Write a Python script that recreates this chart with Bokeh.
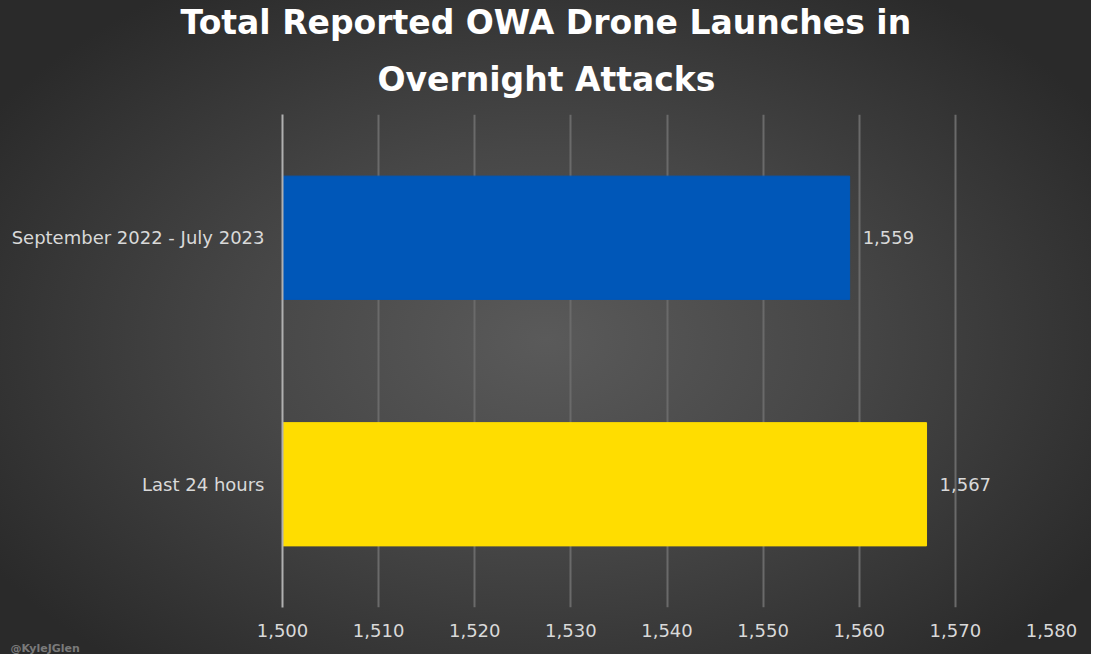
from bokeh.plotting import figure
from bokeh.models import ColumnDataSource, Title, NumeralTickFormatter, FixedTicker, Range1d
from bokeh.core.properties import value
from bokeh.embed import file_html
from bokeh.resources import INLINE

# data
periods = ["Last 24 hours", "September 2022 - July 2023"]
launches = [1567, 1559]
bar_colors = ["#FFDD00", "#0057B8"]
x_ticks = [1500, 1510, 1520, 1530, 1540, 1550, 1560, 1570, 1580]

source = ColumnDataSource(data=dict(
    period=periods,
    launches=launches,
    color=bar_colors,
    label=["{:,}".format(v) for v in launches],
))

FONT = "DejaVu Sans"

p = figure(y_range=periods, x_range=Range1d(1500, 1580),
           width=1091, height=654,
           output_backend="svg", toolbar_location=None,
           min_border_left=282, min_border_right=40,
           min_border_top=114, min_border_bottom=44)

# transparent canvas, gradient via css
p.background_fill_color = None
p.border_fill_color = None
p.outline_line_color = None
p.styles = {"background": "radial-gradient(ellipse 60% 65% at 50% 52%, #5a5a5a 0%, #474747 45%, #2a2a2a 100%)"}

# title, two lines, left aligned with offsets so they sit centred on the canvas
p.title.text = "Total Reported OWA Drone Launches in"
p.title.align = "left"
p.title.offset = -102
p.title.text_color = "white"
p.title.text_font = FONT
p.title.text_font_style = "bold"
p.title.text_font_size = "33px"
p.title.standoff = 0
p.add_layout(Title(text="Overnight Attacks", align="left", offset=95,
                   text_color="white", text_font=FONT, text_font_style="bold",
                   text_font_size="33px", standoff=32), "above")

# bars
p.hbar(y="period", right="launches", left=1500, height=0.5, color="color",
       source=source)

p.text(x="launches", y="period", text="label", source=source,
       x_offset=13, text_baseline="middle", text_color="#d9d9d9",
       text_font=value(FONT), text_font_size="18px")

# axes
p.xaxis.ticker = FixedTicker(ticks=x_ticks)
p.xaxis.formatter = NumeralTickFormatter(format="0,0")
p.xaxis.axis_line_color = None
p.xaxis.major_tick_line_color = None
p.xaxis.minor_tick_line_color = None
p.xaxis.major_label_text_color = "#d9d9d9"
p.xaxis.major_label_text_font = FONT
p.xaxis.major_label_text_font_size = "18px"
p.xaxis.major_label_standoff = 10

p.yaxis.axis_line_color = "#b0b0b0"
p.yaxis.axis_line_width = 2
p.yaxis.major_tick_line_color = None
p.yaxis.minor_tick_line_color = None
p.yaxis.major_label_text_color = "#d9d9d9"
p.yaxis.major_label_text_font = FONT
p.yaxis.major_label_text_font_size = "18px"
p.yaxis.major_label_standoff = 12

p.ygrid.grid_line_color = None
p.xgrid.grid_line_color = "#6a6a6a"
p.xgrid.grid_line_width = 2

# watermark, bottom left corner
p.add_layout(Title(text="@KyleJGlen", align="left", offset=-272, standoff=0,
                   text_color="#7a7a7a", text_font=FONT, text_font_style="bold",
                   text_font_size="11px"), "below")

open("out.html", "w").write(file_html(p, INLINE))
